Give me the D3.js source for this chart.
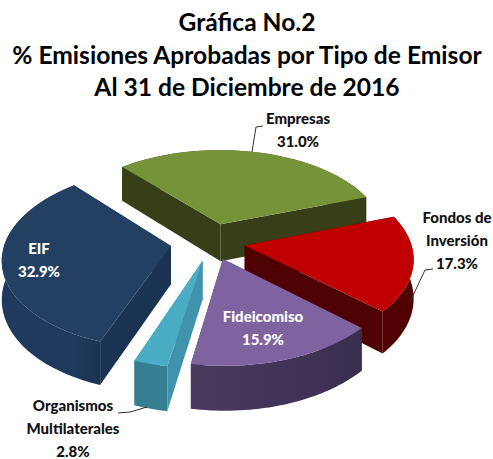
<!DOCTYPE html>
<html><head><meta charset="utf-8">
<style>html,body{margin:0;padding:0;background:#fff}svg{display:block}
text{font-family:Lato,sans-serif;font-weight:900}</style>
<script src="https://cdn.jsdelivr.net/npm/d3@7"></script></head>
<body><svg id="c" width="493" height="459"></svg>
<script>
const categories=["EIF","Empresas","Fondos de Inversión","Fideicomiso","Organismos Multilaterales"];
const values=[32.9,31.0,17.3,15.9,2.8];
const valueLabels=["32.9%","31.0%","17.3%","15.9%","2.8%"];
const titleLines=["Gráfica No.2","% Emisiones Aprobadas por Tipo de Emisor","Al 31 de Diciembre de 2016"];
const topColors=["#234063","#77933a","#c00000","#7f62a0","#4bacc6"];
const wallDark=["#1b3352","#363f17","#4f0000","#3a2e50","#367f92"];
const wallLight=["#1f3a5c","#363f17","#520000","#4a3a60","#3f93ac"];
const explodes=[0.25,0.215,0.2,0.2,0.215];
const drawOrder=[1,2,0,4,3];

const svg=d3.select("#c");
const cx=212,cy=242,R=166,k=0.53,persp=0.13,depth=38;
const pie=d3.pie().sort(null).value(d=>d).startAngle(110*Math.PI/180).endAngle(470*Math.PI/180);
const arcs=pie(values);
function project(X,Y,z){const w=1/(1-persp*Y);return [cx+X*R*w,cy+Y*R*k*w+z*w];}
const line=d3.line();
const defs=svg.append("defs");
svg.selectAll("text.title").data(titleLines).join("text").attr("class","title")
 .attr("x",247).attr("y",(d,i)=>[31,64,96][i]).attr("text-anchor","middle").attr("font-size",24.6).attr("font-weight",700).style("font-weight",700).attr("fill","#000").text(d=>d);

arcs.forEach((a,i)=>{a.mid=(a.startAngle+a.endAngle)/2;a.ox=explodes[i]*Math.cos(a.mid);a.oy=explodes[i]*Math.sin(a.mid);});
function pt(a,rho,th,z){return project(a.ox+rho*Math.cos(th),a.oy+rho*Math.sin(th),z);}
drawOrder.forEach(i=>{
 const a=arcs[i],g=svg.append("g");
 const ths=d3.range(0,41).map(j=>a.startAngle+(a.endAngle-a.startAngle)*j/40);
 const gid="w"+i;
 const lg=defs.append("linearGradient").attr("id",gid).attr("gradientUnits","userSpaceOnUse");
 const p0=pt(a,1,a.startAngle,0),p1=pt(a,1,a.endAngle,0);
 lg.attr("x1",Math.min(p0[0],p1[0])).attr("x2",Math.max(p0[0],p1[0])).attr("y1",0).attr("y2",0);
 lg.append("stop").attr("offset",0).attr("stop-color",wallLight[i]);
 lg.append("stop").attr("offset",1).attr("stop-color",wallDark[i]);
 [a.startAngle,a.endAngle].forEach(th=>{
  const q=[pt(a,0,th,0),pt(a,1,th,0),pt(a,1,th,depth),pt(a,0,th,depth)];
  g.append("path").attr("d",line(q)+"Z").attr("fill",i===4?wallLight[i]:wallDark[i]);
 });
 const outer=ths.map(t=>pt(a,1,t,0)).concat(ths.slice().reverse().map(t=>pt(a,1,t,depth)));
 g.append("path").attr("d",line(outer)+"Z").attr("fill",i===4?wallDark[i]:`url(#${gid})`);
 const top=[pt(a,0,0,0)].concat(ths.map(t=>pt(a,1,t,0)));
 g.append("path").attr("d",line(top)+"Z").attr("fill",topColors[i]);
});

const labels=[
 {i:0,lines:["EIF"],x:39,y:254,fill:"#fff"},
 {i:1,lines:["Empresas"],x:298,y:124,fill:"#111"},
 {i:2,lines:["Fondos de","Inversión"],x:457,y:223,fill:"#111"},
 {i:3,lines:["Fideicomiso"],x:263,y:322,fill:"#fff"},
 {i:4,lines:["Organismos","Multilaterales"],x:73,y:411,fill:"#111"}];
labels.forEach(l=>{
 const t=svg.append("text").attr("text-anchor","middle").attr("font-size",15).attr("fill",l.fill);
 l.lines.concat([valueLabels[l.i]]).forEach((s,j)=>t.append("tspan").attr("x",l.x).attr("y",l.y+j*23.2).text(s));
});
const leaders=[[[252,152],[256,127],[263,126]],[[410,302],[425,270],[433,269]],[[118,413],[130,412],[147,407]]];
leaders.forEach(q=>svg.append("path").attr("d",line(q)).attr("fill","none").attr("stroke","#333").attr("stroke-width",1));
</script></body></html>
